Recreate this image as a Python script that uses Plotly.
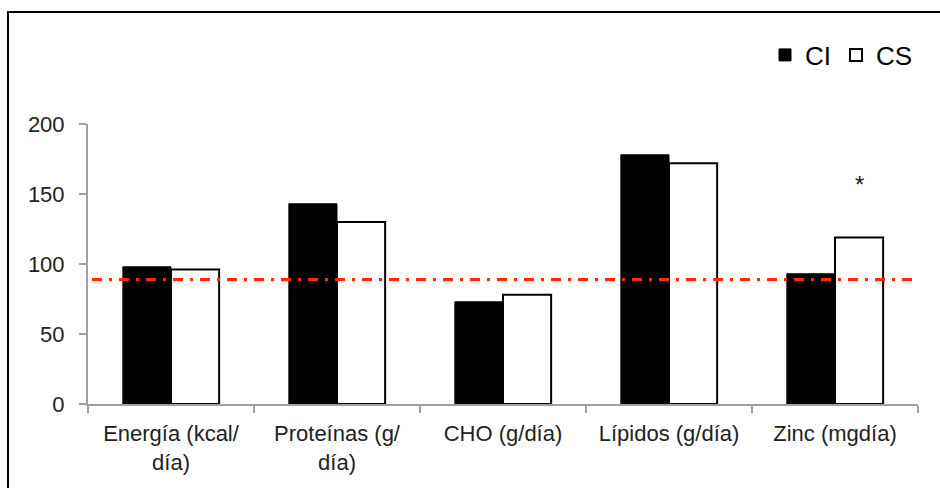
import plotly.graph_objects as go

categories = ["Energía (kcal/<br>día)", "Proteínas (g/<br>día)", "CHO (g/día)", "Lípidos (g/día)", "Zinc (mgdía)"]
ci_values = [98, 143, 73, 178, 93]
cs_values = [96, 130, 78, 172, 119]
reference_line = 89
significance = ["", "", "", "", "*"]
y_ticks = [0, 50, 100, 150, 200]

FONT = "Liberation Sans, Arial, sans-serif"

fig = go.Figure()
fig.add_trace(go.Bar(
    x=categories, y=ci_values, name="CI",
    marker=dict(color="#000000", line=dict(color="#000000", width=1)),
))
fig.add_trace(go.Bar(
    x=categories, y=cs_values, name="CS",
    marker=dict(color="#FFFFFF", line=dict(color="#000000", width=2)),
))

# reference dash-dot line (with faint shadow)
fig.add_shape(type="line", xref="paper", yref="y",
              x0=4/830, x1=824/830, y0=reference_line - 1.5, y1=reference_line - 1.5,
              line=dict(color="rgba(120,120,120,0.18)", width=4, dash="10px,7px,3px,7px"),
              layer="above")
fig.add_shape(type="line", xref="paper", yref="y",
              x0=4/830, x1=824/830, y0=reference_line, y1=reference_line,
              line=dict(color="#FF2A00", width=3, dash="10px,7px,3px,7px"),
              layer="above")

for cat, mark, v in zip(categories, significance, cs_values):
    if mark:
        fig.add_annotation(x=cat, y=157, text=mark, showarrow=False,
                           xshift=24, font=dict(family=FONT, size=24, color="#222222"))

# outer frame
fig.add_shape(type="rect", xref="paper", yref="paper",
              x0=-80/830, x1=1.2, y0=-1, y1=(404-12)/280,
              line=dict(color="#000000", width=2), fillcolor="rgba(0,0,0,0)", layer="below")

fig.update_layout(
    width=940, height=488,
    margin=dict(l=88, r=22, t=124, b=84),
    paper_bgcolor="white", plot_bgcolor="white",
    barmode="group", bargap=0.42, bargroupgap=0,
    font=dict(family=FONT, color="#222222", size=20),
    showlegend=True,
    legend=dict(orientation="h", x=1.0, xanchor="right", y=(404-55)/280, yanchor="middle",
                font=dict(family=FONT, size=26, color="#000000"), itemwidth=30,
                bgcolor="rgba(0,0,0,0)", traceorder="normal"),
    xaxis=dict(showline=True, linecolor="#A0A0A0", linewidth=2,
               ticks="outside", tickson="boundaries", ticklen=7, tickwidth=2, tickcolor="#A0A0A0",
               ticklabelstandoff=9,
               tickfont=dict(family=FONT, size=22, color="#222222"), showgrid=False),
    yaxis=dict(range=[0, 200], tickvals=y_ticks, showline=True, linecolor="#A0A0A0", linewidth=2,
               ticks="outside", ticklen=7, tickwidth=2, tickcolor="#A0A0A0",
               ticklabelstandoff=10,
               tickfont=dict(family=FONT, size=22, color="#222222"), showgrid=False, zeroline=False),
)

fig.write_html("out.html")
